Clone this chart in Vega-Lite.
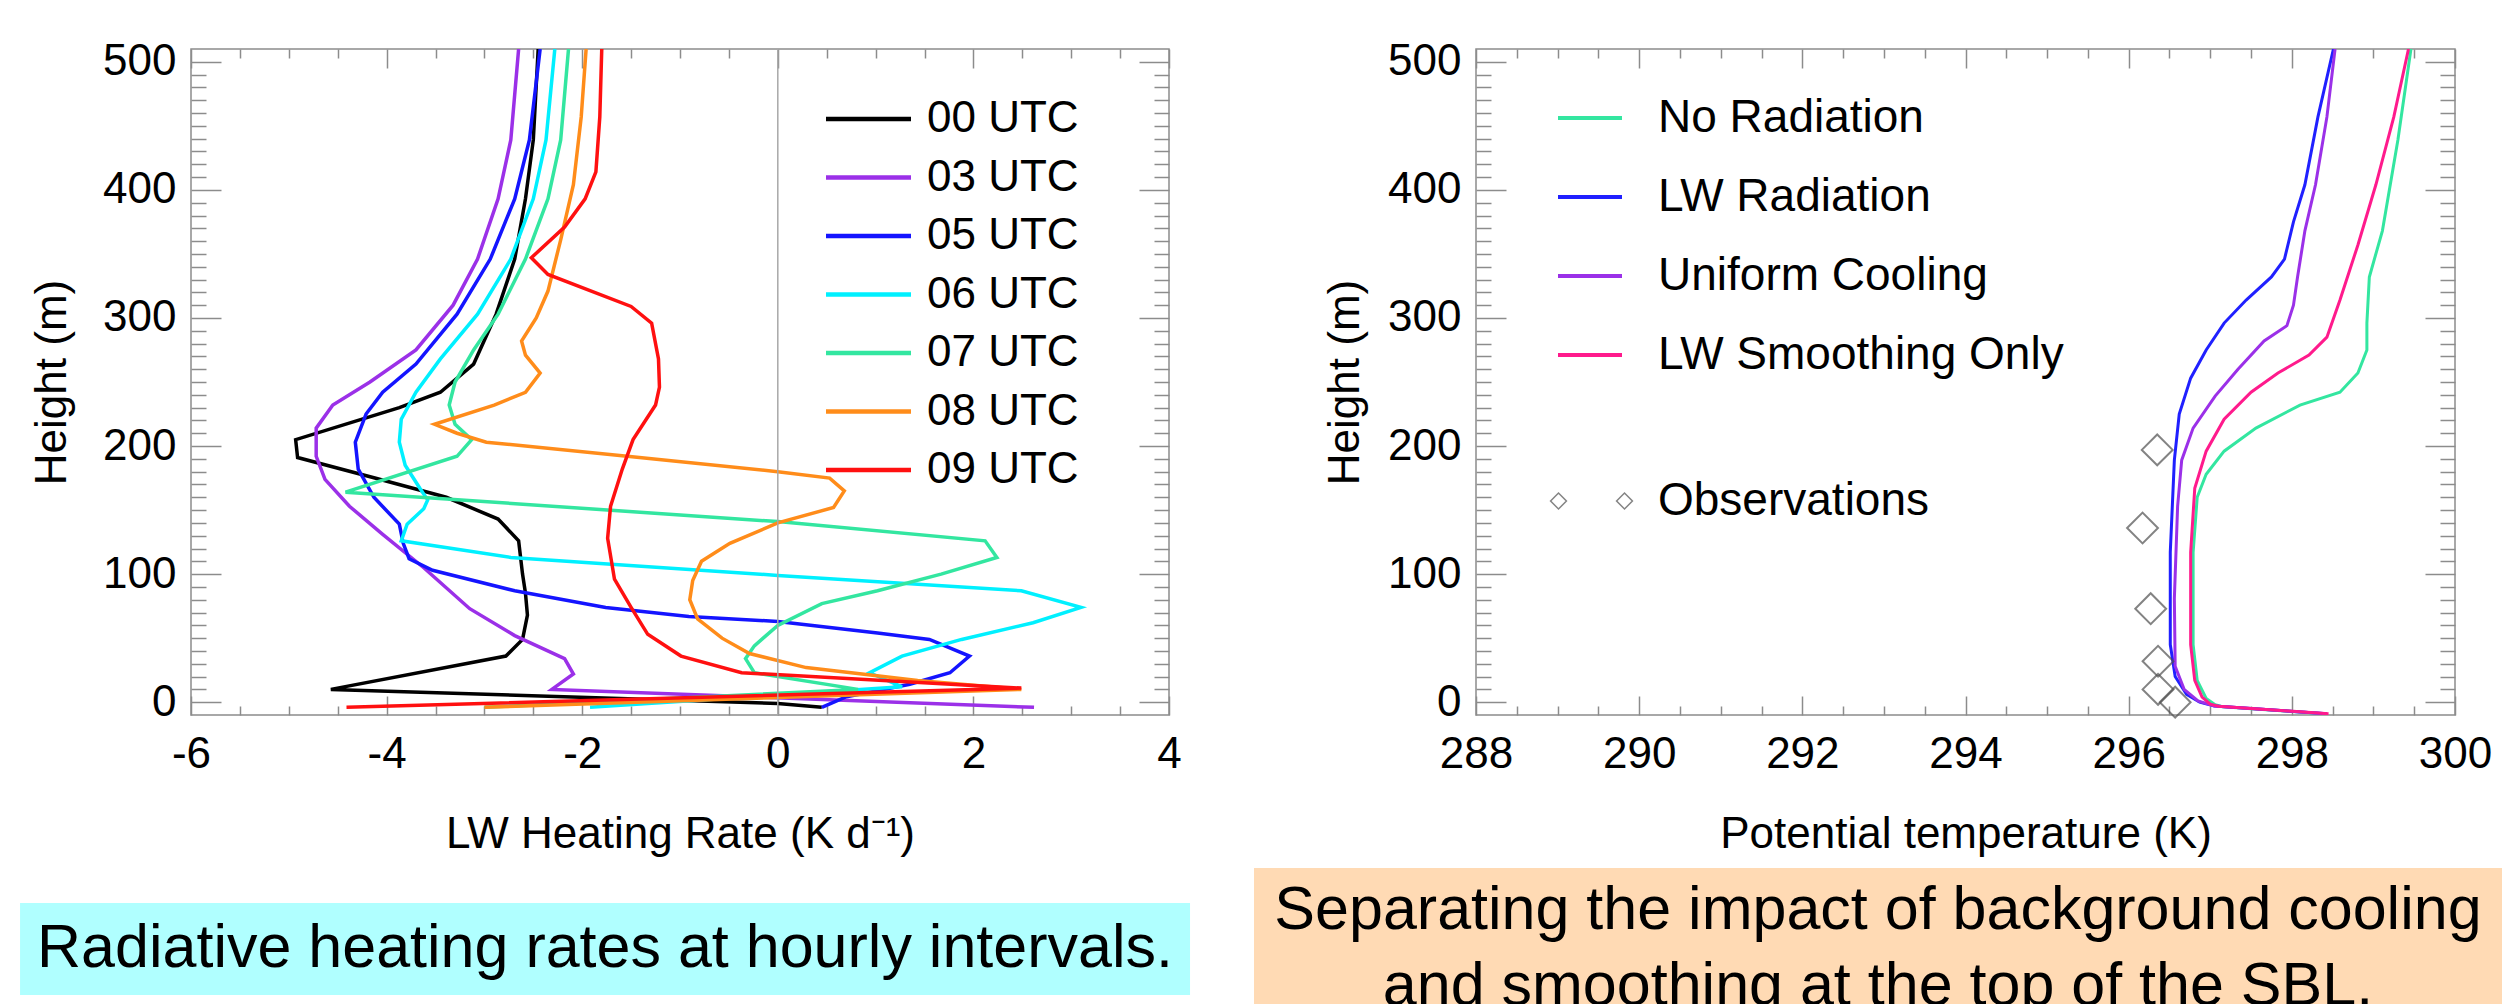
{
  "$schema": "https://vega.github.io/schema/vega-lite/v6.json",
  "padding": {"left": 19, "top": 39, "right": 0, "bottom": 0},
  "background": "#ffffff",
  "bounds": "flush",
  "spacing": 307,
  "resolve": {"scale": {"color": "independent", "stroke": "independent"}, "legend": {"color": "independent", "stroke": "independent"}},
  "config": {
    "font": "Liberation Sans",
    "view": {"stroke": "#8c8c8c", "strokeWidth": 1.5},
    "axis": {
      "labelFont": "Liberation Sans", "titleFont": "Liberation Sans",
      "labelFontSize": 44, "titleFontSize": 44, "titleFontWeight": "normal",
      "labelColor": "#000000", "titleColor": "#000000",
      "tickColor": "#8c8c8c", "tickWidth": 1.5,
      "domain": false, "grid": false, "labelFlush": false, "labelOverlap": false
    },
    "legend": {"labelFont": "Liberation Sans", "labelColor": "#000000", "labelLimit": 1000, "padding": 0}
  },
  "datasets": {
    "hr": [
      {"t":"00 UTC","v":-2.45,"h":510},{"t":"00 UTC","v":-2.50,"h":439},{"t":"00 UTC","v":-2.58,"h":393},{"t":"00 UTC","v":-2.69,"h":346},{"t":"00 UTC","v":-2.88,"h":303},{"t":"00 UTC","v":-3.11,"h":264},{"t":"00 UTC","v":-3.45,"h":242},{"t":"00 UTC","v":-3.87,"h":230},{"t":"00 UTC","v":-4.93,"h":205},{"t":"00 UTC","v":-4.91,"h":191},{"t":"00 UTC","v":-4.12,"h":175},{"t":"00 UTC","v":-3.39,"h":160},{"t":"00 UTC","v":-2.86,"h":143},{"t":"00 UTC","v":-2.65,"h":126},{"t":"00 UTC","v":-2.61,"h":100},{"t":"00 UTC","v":-2.58,"h":85},{"t":"00 UTC","v":-2.56,"h":68},{"t":"00 UTC","v":-2.61,"h":49},{"t":"00 UTC","v":-2.78,"h":36},{"t":"00 UTC","v":-4.57,"h":10},{"t":"00 UTC","v":0.0,"h":-1},{"t":"00 UTC","v":0.45,"h":-4},
      {"t":"03 UTC","v":-2.65,"h":510},{"t":"03 UTC","v":-2.73,"h":439},{"t":"03 UTC","v":-2.86,"h":393},{"t":"03 UTC","v":-3.07,"h":346},{"t":"03 UTC","v":-3.32,"h":310},{"t":"03 UTC","v":-3.70,"h":275},{"t":"03 UTC","v":-4.17,"h":250},{"t":"03 UTC","v":-4.55,"h":232},{"t":"03 UTC","v":-4.72,"h":214},{"t":"03 UTC","v":-4.72,"h":192},{"t":"03 UTC","v":-4.63,"h":174},{"t":"03 UTC","v":-4.38,"h":153},{"t":"03 UTC","v":-4.04,"h":131},{"t":"03 UTC","v":-3.62,"h":105},{"t":"03 UTC","v":-3.15,"h":73},{"t":"03 UTC","v":-2.69,"h":52},{"t":"03 UTC","v":-2.18,"h":34},{"t":"03 UTC","v":-2.09,"h":22},{"t":"03 UTC","v":-2.31,"h":10},{"t":"03 UTC","v":2.62,"h":-4},
      {"t":"05 UTC","v":-2.43,"h":510},{"t":"05 UTC","v":-2.54,"h":439},{"t":"05 UTC","v":-2.69,"h":393},{"t":"05 UTC","v":-2.94,"h":346},{"t":"05 UTC","v":-3.28,"h":303},{"t":"05 UTC","v":-3.70,"h":264},{"t":"05 UTC","v":-4.04,"h":242},{"t":"05 UTC","v":-4.21,"h":225},{"t":"05 UTC","v":-4.32,"h":203},{"t":"05 UTC","v":-4.29,"h":182},{"t":"05 UTC","v":-4.13,"h":160},{"t":"05 UTC","v":-3.87,"h":139},{"t":"05 UTC","v":-3.83,"h":124},{"t":"05 UTC","v":-3.77,"h":112},{"t":"05 UTC","v":-3.53,"h":103},{"t":"05 UTC","v":-2.69,"h":87},{"t":"05 UTC","v":-1.76,"h":74},{"t":"05 UTC","v":-0.91,"h":67},{"t":"05 UTC","v":0.0,"h":63},{"t":"05 UTC","v":1.02,"h":54},{"t":"05 UTC","v":1.55,"h":49},{"t":"05 UTC","v":1.96,"h":36},{"t":"05 UTC","v":1.76,"h":23},{"t":"05 UTC","v":1.35,"h":14},{"t":"05 UTC","v":0.69,"h":4},{"t":"05 UTC","v":0.45,"h":-4},
      {"t":"06 UTC","v":-2.28,"h":510},{"t":"06 UTC","v":-2.37,"h":439},{"t":"06 UTC","v":-2.50,"h":393},{"t":"06 UTC","v":-2.73,"h":346},{"t":"06 UTC","v":-3.07,"h":303},{"t":"06 UTC","v":-3.45,"h":268},{"t":"06 UTC","v":-3.70,"h":242},{"t":"06 UTC","v":-3.85,"h":221},{"t":"06 UTC","v":-3.87,"h":203},{"t":"06 UTC","v":-3.81,"h":185},{"t":"06 UTC","v":-3.66,"h":167},{"t":"06 UTC","v":-3.58,"h":158},{"t":"06 UTC","v":-3.62,"h":151},{"t":"06 UTC","v":-3.79,"h":139},{"t":"06 UTC","v":-3.85,"h":126},{"t":"06 UTC","v":-2.73,"h":113},{"t":"06 UTC","v":0.0,"h":99},{"t":"06 UTC","v":2.49,"h":87},{"t":"06 UTC","v":3.10,"h":74},{"t":"06 UTC","v":2.61,"h":62},{"t":"06 UTC","v":1.88,"h":49},{"t":"06 UTC","v":1.27,"h":36},{"t":"06 UTC","v":0.94,"h":23},{"t":"06 UTC","v":1.27,"h":12},{"t":"06 UTC","v":-1.92,"h":-4},
      {"t":"07 UTC","v":-2.14,"h":510},{"t":"07 UTC","v":-2.22,"h":439},{"t":"07 UTC","v":-2.35,"h":393},{"t":"07 UTC","v":-2.58,"h":346},{"t":"07 UTC","v":-2.86,"h":303},{"t":"07 UTC","v":-3.11,"h":275},{"t":"07 UTC","v":-3.30,"h":250},{"t":"07 UTC","v":-3.36,"h":232},{"t":"07 UTC","v":-3.30,"h":217},{"t":"07 UTC","v":-3.13,"h":205},{"t":"07 UTC","v":-3.28,"h":192},{"t":"07 UTC","v":-4.42,"h":164},{"t":"07 UTC","v":0.0,"h":141},{"t":"07 UTC","v":2.12,"h":126},{"t":"07 UTC","v":2.24,"h":113},{"t":"07 UTC","v":1.67,"h":100},{"t":"07 UTC","v":1.02,"h":87},{"t":"07 UTC","v":0.45,"h":77},{"t":"07 UTC","v":0.0,"h":60},{"t":"07 UTC","v":-0.24,"h":44},{"t":"07 UTC","v":-0.33,"h":34},{"t":"07 UTC","v":-0.24,"h":23},{"t":"07 UTC","v":0.82,"h":10},{"t":"07 UTC","v":-3.0,"h":-4},
      {"t":"08 UTC","v":-1.96,"h":510},{"t":"08 UTC","v":-2.01,"h":457},{"t":"08 UTC","v":-2.09,"h":404},{"t":"08 UTC","v":-2.22,"h":361},{"t":"08 UTC","v":-2.35,"h":321},{"t":"08 UTC","v":-2.47,"h":300},{"t":"08 UTC","v":-2.62,"h":282},{"t":"08 UTC","v":-2.58,"h":271},{"t":"08 UTC","v":-2.43,"h":257},{"t":"08 UTC","v":-2.58,"h":242},{"t":"08 UTC","v":-2.90,"h":232},{"t":"08 UTC","v":-3.51,"h":217},{"t":"08 UTC","v":-3.28,"h":210},{"t":"08 UTC","v":-2.98,"h":203},{"t":"08 UTC","v":-1.54,"h":192},{"t":"08 UTC","v":0.0,"h":180},{"t":"08 UTC","v":0.53,"h":175},{"t":"08 UTC","v":0.68,"h":165},{"t":"08 UTC","v":0.57,"h":152},{"t":"08 UTC","v":0.0,"h":140},{"t":"08 UTC","v":-0.49,"h":124},{"t":"08 UTC","v":-0.78,"h":110},{"t":"08 UTC","v":-0.87,"h":95},{"t":"08 UTC","v":-0.90,"h":80},{"t":"08 UTC","v":-0.82,"h":65},{"t":"08 UTC","v":-0.57,"h":50},{"t":"08 UTC","v":-0.29,"h":38},{"t":"08 UTC","v":0.29,"h":27},{"t":"08 UTC","v":1.43,"h":17},{"t":"08 UTC","v":2.49,"h":10},{"t":"08 UTC","v":-3.0,"h":-4},
      {"t":"09 UTC","v":-1.80,"h":510},{"t":"09 UTC","v":-1.82,"h":457},{"t":"09 UTC","v":-1.86,"h":414},{"t":"09 UTC","v":-1.97,"h":393},{"t":"09 UTC","v":-2.18,"h":371},{"t":"09 UTC","v":-2.52,"h":347},{"t":"09 UTC","v":-2.35,"h":334},{"t":"09 UTC","v":-1.50,"h":309},{"t":"09 UTC","v":-1.29,"h":296},{"t":"09 UTC","v":-1.22,"h":268},{"t":"09 UTC","v":-1.21,"h":246},{"t":"09 UTC","v":-1.25,"h":232},{"t":"09 UTC","v":-1.48,"h":205},{"t":"09 UTC","v":-1.59,"h":182},{"t":"09 UTC","v":-1.71,"h":153},{"t":"09 UTC","v":-1.74,"h":128},{"t":"09 UTC","v":-1.67,"h":96},{"t":"09 UTC","v":-1.50,"h":74},{"t":"09 UTC","v":-1.33,"h":53},{"t":"09 UTC","v":-0.99,"h":36},{"t":"09 UTC","v":-0.37,"h":23},{"t":"09 UTC","v":2.49,"h":11},{"t":"09 UTC","v":-4.41,"h":-4}
    ],
    "th": [
      {"r":"No Radiation","T":299.46,"h":510},{"r":"No Radiation","T":299.30,"h":439},{"r":"No Radiation","T":299.11,"h":368},{"r":"No Radiation","T":298.95,"h":332},{"r":"No Radiation","T":298.92,"h":296},{"r":"No Radiation","T":298.92,"h":275},{"r":"No Radiation","T":298.81,"h":257},{"r":"No Radiation","T":298.59,"h":242},{"r":"No Radiation","T":298.10,"h":232},{"r":"No Radiation","T":297.56,"h":214},{"r":"No Radiation","T":297.17,"h":196},{"r":"No Radiation","T":296.95,"h":178},{"r":"No Radiation","T":296.84,"h":160},{"r":"No Radiation","T":296.79,"h":117},{"r":"No Radiation","T":296.79,"h":45},{"r":"No Radiation","T":296.84,"h":17},{"r":"No Radiation","T":296.95,"h":3},{"r":"No Radiation","T":297.06,"h":-2},{"r":"No Radiation","T":297.15,"h":-3.5},{"r":"No Radiation","T":298.40,"h":-9},
      {"r":"LW Radiation","T":298.51,"h":510},{"r":"LW Radiation","T":298.32,"h":457},{"r":"LW Radiation","T":298.16,"h":404},{"r":"LW Radiation","T":298.02,"h":375},{"r":"LW Radiation","T":297.91,"h":346},{"r":"LW Radiation","T":297.75,"h":332},{"r":"LW Radiation","T":297.44,"h":314},{"r":"LW Radiation","T":297.17,"h":296},{"r":"LW Radiation","T":296.95,"h":275},{"r":"LW Radiation","T":296.76,"h":253},{"r":"LW Radiation","T":296.62,"h":225},{"r":"LW Radiation","T":296.56,"h":189},{"r":"LW Radiation","T":296.51,"h":117},{"r":"LW Radiation","T":296.51,"h":45},{"r":"LW Radiation","T":296.57,"h":20},{"r":"LW Radiation","T":296.71,"h":6},{"r":"LW Radiation","T":296.87,"h":0},{"r":"LW Radiation","T":297.05,"h":-3},{"r":"LW Radiation","T":298.43,"h":-9},
      {"r":"Uniform Cooling","T":298.53,"h":510},{"r":"Uniform Cooling","T":298.43,"h":457},{"r":"Uniform Cooling","T":298.29,"h":404},{"r":"Uniform Cooling","T":298.16,"h":368},{"r":"Uniform Cooling","T":298.07,"h":332},{"r":"Uniform Cooling","T":298.02,"h":310},{"r":"Uniform Cooling","T":297.94,"h":294},{"r":"Uniform Cooling","T":297.66,"h":282},{"r":"Uniform Cooling","T":297.34,"h":260},{"r":"Uniform Cooling","T":297.06,"h":239},{"r":"Uniform Cooling","T":296.79,"h":214},{"r":"Uniform Cooling","T":296.65,"h":189},{"r":"Uniform Cooling","T":296.60,"h":153},{"r":"Uniform Cooling","T":296.56,"h":81},{"r":"Uniform Cooling","T":296.57,"h":28},{"r":"Uniform Cooling","T":296.68,"h":10},{"r":"Uniform Cooling","T":296.85,"h":1},{"r":"Uniform Cooling","T":297.05,"h":-3},{"r":"Uniform Cooling","T":298.43,"h":-9},
      {"r":"LW Smoothing Only","T":299.43,"h":510},{"r":"LW Smoothing Only","T":299.25,"h":457},{"r":"LW Smoothing Only","T":299.03,"h":404},{"r":"LW Smoothing Only","T":298.81,"h":357},{"r":"LW Smoothing Only","T":298.59,"h":314},{"r":"LW Smoothing Only","T":298.43,"h":285},{"r":"LW Smoothing Only","T":298.21,"h":271},{"r":"LW Smoothing Only","T":297.83,"h":257},{"r":"LW Smoothing Only","T":297.50,"h":242},{"r":"LW Smoothing Only","T":297.17,"h":221},{"r":"LW Smoothing Only","T":296.95,"h":196},{"r":"LW Smoothing Only","T":296.81,"h":167},{"r":"LW Smoothing Only","T":296.76,"h":117},{"r":"LW Smoothing Only","T":296.76,"h":45},{"r":"LW Smoothing Only","T":296.81,"h":17},{"r":"LW Smoothing Only","T":296.90,"h":4},{"r":"LW Smoothing Only","T":297.0,"h":-1.5},{"r":"LW Smoothing Only","T":297.1,"h":-3.2},{"r":"LW Smoothing Only","T":298.45,"h":-9}
    ],
    "obs": [
      {"s":"Observations","T":296.35,"h":197},{"s":"Observations","T":296.17,"h":136},{"s":"Observations","T":296.27,"h":73},{"s":"Observations","T":296.36,"h":32},{"s":"Observations","T":296.36,"h":10},{"s":"Observations","T":296.57,"h":0}
    ]
  },
  "hconcat": [
    {
      "width": 978,
      "height": 666,
      "layer": [
        {
          "data": {"name": "hr"},
          "mark": {"type": "line", "strokeWidth": 3.5, "clip": true},
          "encoding": {
            "x": {"field": "v", "type": "quantitative",
              "scale": {"domain": [-6, 4], "nice": false, "zero": false},
              "axis": {"orient": "bottom", "title": "LW Heating Rate (K d⁻¹)",
                "values": [-6,-5.5,-5,-4.5,-4,-3.5,-3,-2.5,-2,-1.5,-1,-0.5,0,0.5,1,1.5,2,2.5,3,3.5,4],
                "labelExpr": "datum.value % 2 === 0 ? toString(datum.value) : ''",
                "tickSize": {"condition": {"test": "datum.value % 2 === 0", "value": -19}, "value": -9},
                "labelPadding": 36, "titlePadding": 26}},
            "y": {"field": "h", "type": "quantitative",
              "scale": {"domain": [-10, 510], "nice": false, "zero": false},
              "axis": {"orient": "left", "title": "Height (m)",
                "values": [0,10,20,30,40,50,60,70,80,90,100,110,120,130,140,150,160,170,180,190,200,210,220,230,240,250,260,270,280,290,300,310,320,330,340,350,360,370,380,390,400,410,420,430,440,450,460,470,480,490,500],
                "labelExpr": "datum.value % 100 === 0 ? toString(datum.value) : ''",
                "tickSize": {"condition": {"test": "datum.value % 100 === 0", "value": -30}, "value": -15},
                "labelPadding": 45, "titlePadding": 28}},
            "color": {"field": "t", "type": "nominal",
              "scale": {"domain": ["00 UTC","03 UTC","05 UTC","06 UTC","07 UTC","08 UTC","09 UTC"],
                        "range": ["#000000","#9b30e8","#1414ff","#00f0ff","#33e6a0","#ff8c1a","#ff1010"]},
              "legend": {"title": null, "orient": "none", "legendX": 632.5, "legendY": 48,
                "symbolType": "stroke", "symbolSize": 7225, "symbolStrokeWidth": 4.5,
                "labelFontSize": 44, "labelOffset": 13.5, "rowPadding": 14.5, "clipHeight": 44}},
            "order": {"field": "h", "sort": "ascending"}
          }
        },
        {
          "data": {"values": [{"v": 0}]},
          "mark": {"type": "rule", "color": "#a8a8a8", "strokeWidth": 1.5},
          "encoding": {
            "x": {"field": "v", "type": "quantitative",
              "scale": {"domain": [-6, 4], "nice": false, "zero": false},
              "axis": {"orient": "top", "title": null, "labels": false,
                "values": [-6,-5.5,-5,-4.5,-4,-3.5,-3,-2.5,-2,-1.5,-1,-0.5,0,0.5,1,1.5,2,2.5,3,3.5,4],
                "tickSize": {"condition": {"test": "datum.value % 2 === 0", "value": -19}, "value": -9}}},
            "y": {"datum": -10, "type": "quantitative",
              "scale": {"domain": [-10, 510], "nice": false, "zero": false},
              "axis": {"orient": "right", "title": null, "labels": false,
                "values": [0,10,20,30,40,50,60,70,80,90,100,110,120,130,140,150,160,170,180,190,200,210,220,230,240,250,260,270,280,290,300,310,320,330,340,350,360,370,380,390,400,410,420,430,440,450,460,470,480,490,500],
                "tickSize": {"condition": {"test": "datum.value % 100 === 0", "value": -30}, "value": -15}}},
            "y2": {"datum": 510}
          }
        },
        {
          "data": {"values": [{"c": "Radiative heating rates at hourly intervals."}]},
          "mark": {"type": "rect", "color": "#b0ffff", "clip": false},
          "encoding": {
            "x": {"datum": -7.748, "type": "quantitative", "scale": {"domain": [-6, 4], "nice": false, "zero": false}, "axis": null},
            "x2": {"datum": 4.215},
            "y": {"datum": -156.8, "type": "quantitative", "scale": {"domain": [-10, 510], "nice": false, "zero": false}, "axis": null},
            "y2": {"datum": -228.6}
          }
        },
        {
          "data": {"values": [{"c": "Radiative heating rates at hourly intervals."}]},
          "mark": {"type": "text", "fontSize": 61, "font": "Liberation Sans", "color": "#000000", "align": "center", "baseline": "middle", "clip": false},
          "encoding": {
            "text": {"field": "c", "type": "nominal"},
            "x": {"datum": -1.767, "type": "quantitative", "scale": {"domain": [-6, 4], "nice": false, "zero": false}, "axis": null},
            "y": {"datum": -192.7, "type": "quantitative", "scale": {"domain": [-10, 510], "nice": false, "zero": false}, "axis": null}
          }
        }
      ]
    },
    {
      "width": 979,
      "height": 666,
      "layer": [
        {
          "data": {"name": "th"},
          "mark": {"type": "line", "strokeWidth": 3, "clip": true},
          "encoding": {
            "x": {"field": "T", "type": "quantitative",
              "scale": {"domain": [288, 300], "nice": false, "zero": false},
              "axis": {"orient": "bottom", "title": "Potential temperature (K)",
                "values": [288,288.5,289,289.5,290,290.5,291,291.5,292,292.5,293,293.5,294,294.5,295,295.5,296,296.5,297,297.5,298,298.5,299,299.5,300],
                "labelExpr": "datum.value % 2 === 0 ? toString(datum.value) : ''",
                "tickSize": {"condition": {"test": "datum.value % 2 === 0", "value": -19}, "value": -9},
                "labelPadding": 36, "titlePadding": 26}},
            "y": {"field": "h", "type": "quantitative",
              "scale": {"domain": [-10, 510], "nice": false, "zero": false},
              "axis": {"orient": "left", "title": "Height (m)",
                "values": [0,10,20,30,40,50,60,70,80,90,100,110,120,130,140,150,160,170,180,190,200,210,220,230,240,250,260,270,280,290,300,310,320,330,340,350,360,370,380,390,400,410,420,430,440,450,460,470,480,490,500],
                "labelExpr": "datum.value % 100 === 0 ? toString(datum.value) : ''",
                "tickSize": {"condition": {"test": "datum.value % 100 === 0", "value": -30}, "value": -15},
                "labelPadding": 45, "titlePadding": 20}},
            "color": {"field": "r", "type": "nominal",
              "scale": {"domain": ["No Radiation","LW Radiation","Uniform Cooling","LW Smoothing Only"],
                        "range": ["#33e6a0","#2020ff","#9b30e8","#ff1a8c"]},
              "legend": {"title": null, "orient": "none", "legendX": 80, "legendY": 46,
                "symbolType": "stroke", "symbolSize": 4096, "symbolStrokeWidth": 4,
                "labelFontSize": 46, "labelOffset": 34, "rowPadding": 33, "clipHeight": 46}},
            "order": {"field": "h", "sort": "ascending"}
          }
        },
        {
          "data": {"name": "obs"},
          "mark": {"type": "point", "shape": "diamond", "filled": false, "size": 950, "strokeWidth": 2},
          "encoding": {
            "x": {"field": "T", "type": "quantitative",
              "scale": {"domain": [288, 300], "nice": false, "zero": false},
              "axis": {"orient": "top", "title": null, "labels": false,
                "values": [288,288.5,289,289.5,290,290.5,291,291.5,292,292.5,293,293.5,294,294.5,295,295.5,296,296.5,297,297.5,298,298.5,299,299.5,300],
                "tickSize": {"condition": {"test": "datum.value % 2 === 0", "value": -19}, "value": -9}}},
            "y": {"field": "h", "type": "quantitative",
              "scale": {"domain": [-10, 510], "nice": false, "zero": false},
              "axis": {"orient": "right", "title": null, "labels": false,
                "values": [0,10,20,30,40,50,60,70,80,90,100,110,120,130,140,150,160,170,180,190,200,210,220,230,240,250,260,270,280,290,300,310,320,330,340,350,360,370,380,390,400,410,420,430,440,450,460,470,480,490,500],
                "tickSize": {"condition": {"test": "datum.value % 100 === 0", "value": -30}, "value": -15}}},
            "stroke": {"field": "s", "type": "nominal",
              "scale": {"domain": ["Observations"], "range": ["#505050"]},
              "legend": {"title": null, "orient": "none", "legendX": 81.5, "legendY": 418,
                "symbolType": "M-1.24,0L-1,-0.24L-0.76,0L-1,0.24Z M0.76,0L1,-0.24L1.24,0L1,0.24Z",
                "symbolSize": 4356, "symbolStrokeWidth": 1.5,
                "labelFontSize": 46, "labelOffset": 32.5}}
          }
        },
        {
          "data": {"values": [{"c": "Separating the impact of background cooling\nand smoothing at the top of the SBL."}]},
          "mark": {"type": "rect", "color": "#ffdab4", "clip": false},
          "encoding": {
            "x": {"datum": 285.279, "type": "quantitative", "scale": {"domain": [288, 300], "nice": false, "zero": false}, "axis": null},
            "x2": {"datum": 301.3},
            "y": {"datum": -129.5, "type": "quantitative", "scale": {"domain": [-10, 510], "nice": false, "zero": false}, "axis": null},
            "y2": {"datum": -255.9}
          }
        },
        {
          "data": {"values": [{"c": "Separating the impact of background cooling\nand smoothing at the top of the SBL."}]},
          "mark": {"type": "text", "fontSize": 61, "font": "Liberation Sans", "color": "#000000", "align": "center", "baseline": "middle", "lineBreak": "\n", "lineHeight": 76, "clip": false},
          "encoding": {
            "text": {"field": "c", "type": "nominal"},
            "x": {"datum": 292.927, "type": "quantitative", "scale": {"domain": [288, 300], "nice": false, "zero": false}, "axis": null},
            "y": {"datum": -163.0, "type": "quantitative", "scale": {"domain": [-10, 510], "nice": false, "zero": false}, "axis": null}
          }
        }
      ]
    }
  ]
}
